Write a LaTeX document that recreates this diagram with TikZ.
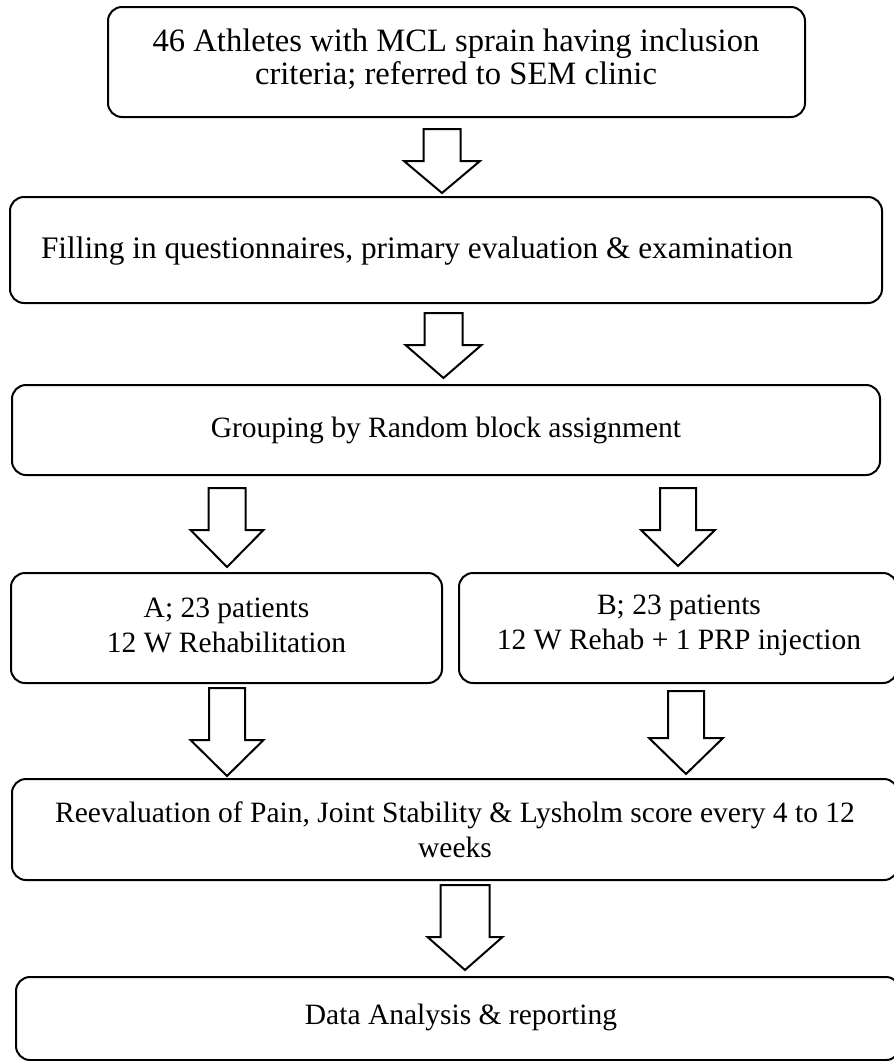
\documentclass[tikz,border=0pt]{standalone}
\usepackage{fontspec}
\setmainfont{Liberation Serif}
\begin{document}
\begin{tikzpicture}[x=1pt,y=-1pt,
  box/.style={draw=black,line width=2pt,rounded corners=14pt,align=center,
    inner sep=0pt,font=\fontsize{29.5}{35}\selectfont},
  bigtext/.style={font=\fontsize{32.6}{33}\selectfont},
  midtext/.style={font=\fontsize{31.3}{35}\selectfont},
  blockarrow/.style={draw=black,line width=2pt,fill=white,line join=miter}]
\useasboundingbox (0,0) rectangle (894,1061);
\newcommand\barrow[6]{% x, top, base, tip, shaft half, head half
  \draw[blockarrow] ({#1-#5},#2) -- ({#1+#5},#2) -- ({#1+#5},#3) -- ({#1+#6},#3)
    -- (#1,#4) -- ({#1-#6},#3) -- ({#1-#5},#3) -- cycle;}
\node[box,minimum width=697pt,minimum height=110pt] (b1) at (456.5,62) {};
\node[box,draw=none,bigtext] (t1) at (456,59)
  {46 Athletes with MCL sprain having inclusion\\criteria; referred to SEM clinic};
\node[box,minimum width=872pt,minimum height=106pt] (b2) at (446,250) {};
\node[box,draw=none,midtext] (t2) at (417,251)
  {Filling in questionnaires, primary evaluation \& examination};
\node[box,minimum width=868pt,minimum height=90pt] (b3) at (446,430)
  {Grouping by Random block assignment};
\node[box,minimum width=431pt,minimum height=110pt] (ba) at (226.5,628) {};
\node[box,draw=none] (ta) at (226.5,625) {A; 23 patients\\12 W Rehabilitation};
\node[box,minimum width=438pt,minimum height=110pt] (bb) at (678,628) {};
\node[box,draw=none] (tb) at (679,625) {B; 23 patients\\12 W Rehab + 1 PRP injection};
\node[box,minimum width=886pt,minimum height=101pt] (br) at (455,829.5)
  {Reevaluation of Pain, Joint Stability \& Lysholm score every 4 to 12\\weeks};
\node[box,minimum width=884pt,minimum height=83pt] (bd) at (458,1018.5) {};
\node[box,draw=none] (td) at (461,1017) {Data Analysis \& reporting};
\barrow{442}{129}{161}{193}{18.5}{38}
\barrow{443.5}{313}{345}{378}{19}{38}
\barrow{227}{488}{530}{567}{18.5}{36.5}
\barrow{678}{488}{530}{566}{18}{37}
\barrow{227}{688}{740}{776}{18}{36.5}
\barrow{686}{691}{738}{774}{18}{37}
\barrow{465}{885}{937}{970}{24.5}{37.5}
\end{tikzpicture}
\end{document}
